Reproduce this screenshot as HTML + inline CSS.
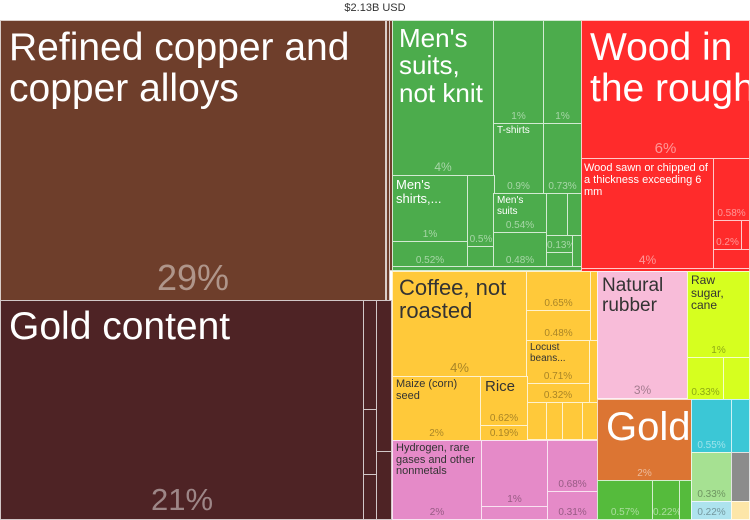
<!DOCTYPE html>
<html><head><meta charset="utf-8"><style>
body{margin:0;width:750px;height:520px;overflow:hidden;background:#fff;font-family:"Liberation Sans",sans-serif;position:relative}
.t{position:absolute;top:2px;left:0;width:750px;text-align:center;font-size:11px;color:#333}
.r{position:absolute;box-sizing:border-box;border:1px solid rgba(255,255,255,0.75);overflow:hidden}
.l{position:absolute;left:6px;top:2px;line-height:1.05;color:#fff}
.d{color:#333}
.p{position:absolute;left:0;right:0;bottom:1px;text-align:center;color:rgba(255,255,255,0.5);font-size:10px}
.pd{color:rgba(0,0,0,0.35)}
</style></head><body>
<div class="t">$2.13B USD</div>
<!-- brown -->
<div class="r" style="left:0;top:20px;width:386px;height:281px;background:#6e3e2b"><div class="l" style="font-size:39px;top:7px;left:8px;white-space:nowrap">Refined copper and<br>copper alloys</div><div class="p" style="font-size:36px;color:rgba(255,255,255,0.45)">29%</div></div>
<div class="r" style="left:386px;top:20px;width:4px;height:281px;background:#6e3e2b"></div>
<div class="r" style="left:389px;top:20px;width:4px;height:251px;background:#6e3e2b"></div>
<div class="r" style="left:0;top:300px;width:364px;height:220px;background:#4e2325"><div class="l" style="font-size:39px;top:6px;left:8px">Gold content</div><div class="p" style="font-size:31px;color:rgba(255,255,255,0.45)">21%</div></div>
<div class="r" style="left:363px;top:300px;width:14px;height:110px;background:#4e2325"></div>
<div class="r" style="left:363px;top:409px;width:14px;height:66px;background:#4e2325"></div>
<div class="r" style="left:363px;top:474px;width:14px;height:46px;background:#4e2325"></div>
<div class="r" style="left:376px;top:300px;width:16px;height:152px;background:#4e2325"></div>
<div class="r" style="left:376px;top:451px;width:16px;height:69px;background:#4e2325"></div>
<!-- green -->
<div class="r" style="left:392px;top:20px;width:190px;height:251px;background:#4cac4c"></div>
<div class="r" style="left:392px;top:20px;width:102px;height:156px;background:#4cac4c"><div class="l" style="font-size:26px;top:4px;white-space:nowrap">Men's<br>suits,<br>not knit</div><div class="p" style="font-size:12px">4%</div></div>
<div class="r" style="left:493px;top:20px;width:51px;height:104px;background:#4cac4c"><div class="p">1%</div></div>
<div class="r" style="left:543px;top:20px;width:39px;height:104px;background:#4cac4c"><div class="p">1%</div></div>
<div class="r" style="left:493px;top:123px;width:51px;height:71px;background:#4cac4c"><div class="l" style="font-size:10px;left:3px">T-shirts</div><div class="p">0.9%</div></div>
<div class="r" style="left:543px;top:123px;width:39px;height:71px;background:#4cac4c"><div class="p">0.73%</div></div>
<div class="r" style="left:392px;top:175px;width:76px;height:67px;background:#4cac4c"><div class="l" style="font-size:13px;left:3px">Men's<br>shirts,...</div><div class="p">1%</div></div>
<div class="r" style="left:467px;top:175px;width:28px;height:72px;background:#4cac4c"><div class="p">0.5%</div></div>
<div class="r" style="left:392px;top:241px;width:76px;height:27px;background:#4cac4c"><div class="p">0.52%</div></div>
<div class="r" style="left:493px;top:193px;width:54px;height:40px;background:#4cac4c"><div class="l" style="font-size:10px;left:3px">Men's<br>suits</div><div class="p">0.54%</div></div>
<div class="r" style="left:493px;top:232px;width:54px;height:36px;background:#4cac4c"><div class="p">0.48%</div></div>
<div class="r" style="left:546px;top:193px;width:22px;height:43px;background:#4cac4c"></div>
<div class="r" style="left:567px;top:193px;width:15px;height:43px;background:#4cac4c"></div>
<div class="r" style="left:546px;top:235px;width:27px;height:18px;background:#4cac4c"><div class="p">0.13%</div></div>
<div class="r" style="left:546px;top:252px;width:27px;height:16px;background:#4cac4c"></div>
<div class="r" style="left:392px;top:266px;width:190px;height:5px;background:#4cac4c"></div>
<!-- red -->
<div class="r" style="left:581px;top:20px;width:169px;height:139px;background:#ff2b2b"><div class="l" style="font-size:39px;top:7px;left:8px;white-space:nowrap">Wood in<br>the rough</div><div class="p" style="font-size:15px">6%</div></div>
<div class="r" style="left:581px;top:158px;width:133px;height:111px;background:#ff2b2b"><div class="l" style="font-size:11px;left:2px;top:3px;line-height:1.1;white-space:nowrap">Wood sawn or chipped of<br>a thickness exceeding 6<br>mm</div><div class="p" style="font-size:12px">4%</div></div>
<div class="r" style="left:713px;top:158px;width:37px;height:63px;background:#ff2b2b"><div class="p">0.58%</div></div>
<div class="r" style="left:713px;top:220px;width:29px;height:30px;background:#ff2b2b"><div class="p">0.2%</div></div>
<div class="r" style="left:741px;top:220px;width:9px;height:30px;background:#ff2b2b"></div>
<div class="r" style="left:713px;top:249px;width:37px;height:20px;background:#ff2b2b"></div>
<div class="r" style="left:581px;top:268px;width:169px;height:4px;background:#ff2b2b"></div>
<!-- yellow -->
<div class="r" style="left:392px;top:271px;width:135px;height:106px;background:#ffc93a"><div class="l d" style="font-size:22px;top:4px">Coffee, not<br>roasted</div><div class="p pd" style="font-size:13px">4%</div></div>
<div class="r" style="left:526px;top:271px;width:65px;height:40px;background:#ffc93a"><div class="p pd">0.65%</div></div>
<div class="r" style="left:590px;top:271px;width:8px;height:70px;background:#ffc93a"></div>
<div class="r" style="left:526px;top:310px;width:65px;height:31px;background:#ffc93a"><div class="p pd">0.48%</div></div>
<div class="r" style="left:526px;top:340px;width:64px;height:44px;background:#ffc93a"><div class="l d" style="font-size:10px;left:3px">Locust<br>beans...</div><div class="p pd">0.71%</div></div>
<div class="r" style="left:526px;top:383px;width:64px;height:20px;background:#ffc93a"><div class="p pd">0.32%</div></div>
<div class="r" style="left:589px;top:340px;width:9px;height:63px;background:#ffc93a"></div>
<div class="r" style="left:526px;top:402px;width:21px;height:38px;background:#ffc93a"></div>
<div class="r" style="left:546px;top:402px;width:17px;height:38px;background:#ffc93a"></div>
<div class="r" style="left:562px;top:402px;width:21px;height:38px;background:#ffc93a"></div>
<div class="r" style="left:582px;top:402px;width:16px;height:38px;background:#ffc93a"></div>
<div class="r" style="left:392px;top:376px;width:89px;height:65px;background:#ffc93a"><div class="l d" style="font-size:11px;left:3px">Maize (corn)<br>seed</div><div class="p pd">2%</div></div>
<div class="r" style="left:480px;top:376px;width:48px;height:50px;background:#ffc93a"><div class="l d" style="font-size:15px;left:4px">Rice</div><div class="p pd">0.62%</div></div>
<div class="r" style="left:480px;top:425px;width:48px;height:16px;background:#ffc93a"><div class="p pd">0.19%</div></div>
<!-- pink -->
<div class="r" style="left:597px;top:271px;width:91px;height:128px;background:#f8bcd9"><div class="l d" style="font-size:19px;top:4px;left:4px">Natural<br>rubber</div><div class="p pd" style="font-size:12px">3%</div></div>
<div class="r" style="left:687px;top:271px;width:63px;height:87px;background:#d6ff1f"><div class="l d" style="font-size:12px;left:3px">Raw<br>sugar,<br>cane</div><div class="p pd">1%</div></div>
<div class="r" style="left:687px;top:357px;width:37px;height:43px;background:#d6ff1f"><div class="p pd">0.33%</div></div>
<div class="r" style="left:723px;top:357px;width:27px;height:43px;background:#d6ff1f"></div>
<!-- magenta -->
<div class="r" style="left:392px;top:440px;width:90px;height:80px;background:#e58ac8"><div class="l d" style="font-size:11px;left:3px;white-space:nowrap">Hydrogen, rare<br>gases and other<br>nonmetals</div><div class="p pd">2%</div></div>
<div class="r" style="left:481px;top:440px;width:67px;height:67px;background:#e58ac8"><div class="p pd">1%</div></div>
<div class="r" style="left:481px;top:506px;width:67px;height:14px;background:#e58ac8"></div>
<div class="r" style="left:547px;top:440px;width:51px;height:52px;background:#e58ac8"><div class="p pd">0.68%</div></div>
<div class="r" style="left:547px;top:491px;width:51px;height:29px;background:#e58ac8"><div class="p pd">0.31%</div></div>
<!-- gold orange -->
<div class="r" style="left:597px;top:399px;width:95px;height:82px;background:#dc7533"><div class="l" style="font-size:40px;top:6px;left:8px">Gold</div><div class="p">2%</div></div>
<div class="r" style="left:597px;top:480px;width:56px;height:40px;background:#55bb3c"><div class="p">0.57%</div></div>
<div class="r" style="left:652px;top:480px;width:28px;height:40px;background:#55bb3c"><div class="p">0.22%</div></div>
<div class="r" style="left:679px;top:480px;width:13px;height:40px;background:#55bb3c"></div>
<div class="r" style="left:691px;top:399px;width:41px;height:54px;background:#3bc7d6"><div class="p">0.55%</div></div>
<div class="r" style="left:731px;top:399px;width:19px;height:54px;background:#3bc7d6"></div>
<div class="r" style="left:691px;top:452px;width:41px;height:50px;background:#a6e192"><div class="p pd">0.33%</div></div>
<div class="r" style="left:691px;top:501px;width:41px;height:19px;background:#aee3ee"><div class="p pd">0.22%</div></div>
<div class="r" style="left:731px;top:452px;width:19px;height:50px;background:#8c8c8c"></div>
<div class="r" style="left:731px;top:501px;width:19px;height:19px;background:#fde6a8"></div>
</body></html>
